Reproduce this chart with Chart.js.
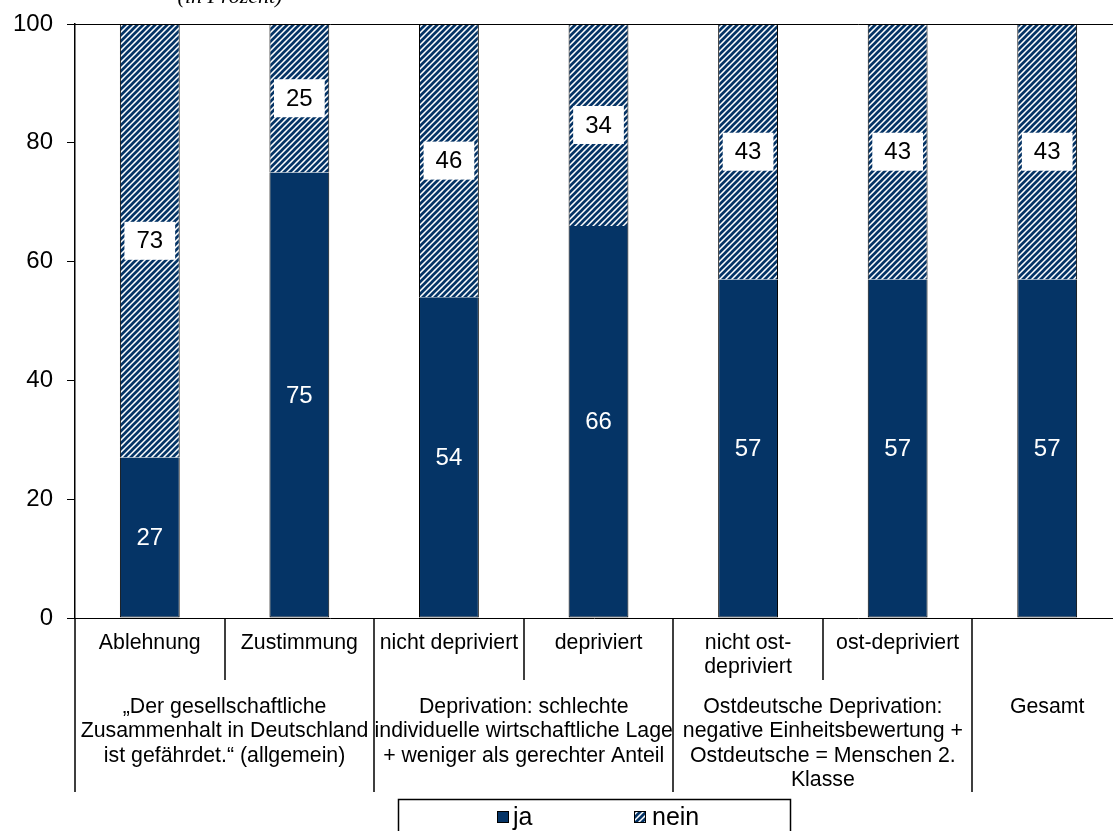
<!DOCTYPE html>
<html>
<head>
<meta charset="utf-8">
<script src="https://cdn.jsdelivr.net/npm/chart.js@4.4.0/dist/chart.umd.min.js"></script>
<style>
  html, body { margin: 0; padding: 0; background: #fff; overflow: hidden; }
  #wrap { width: 1125px; height: 831px; }
</style>
</head>
<body>
<div id="wrap"><canvas id="chart" width="1125" height="831"></canvas></div>
<script>
// category labels (first row), group labels (second row)
const categories = ['Ablehnung', 'Zustimmung', 'nicht depriviert', 'depriviert', 'nicht ost-\ndepriviert', 'ost-depriviert', ''];
const groupLabels = [
    '„Der gesellschaftliche\nZusammenhalt in Deutschland\nist gefährdet.“ (allgemein)',
    'Deprivation: schlechte\nindividuelle wirtschaftliche Lage\n+ weniger als gerechter Anteil',
    'Ostdeutsche Deprivation:\nnegative Einheitsbewertung +\nOstdeutsche = Menschen 2.\nKlasse',
    'Gesamt'
];
const groupSpans = [2, 2, 2, 1];
const jaValues = [27, 75, 54, 66, 57, 57, 57];
const neinValues = [73, 25, 46, 34, 43, 43, 43];
const seriesNames = ['ja', 'nein'];

const NAVY = '#053466';
const FONT = '"Liberation Sans", Arial, sans-serif';

function makeHatch() {
    const c = document.createElement('canvas');
    c.width = 6; c.height = 6;
    const g = c.getContext('2d');
    g.fillStyle = '#fff';
    g.fillRect(0, 0, 6, 6);
    g.strokeStyle = NAVY;
    g.lineWidth = 2.7;
    g.beginPath();
    g.moveTo(-1, 7); g.lineTo(7, -1);
    g.moveTo(-4, 4); g.lineTo(4, -4);
    g.moveTo(2, 10); g.lineTo(10, 2);
    g.stroke();
    return document.getElementById('chart').getContext('2d').createPattern(c, 'repeat');
}
const hatch = makeHatch();

const extras = {
    id: 'extras',
    afterDatasetsDraw(chart) {
        const ctx = chart.ctx;
        const area = chart.chartArea;
        ctx.save();

        // value labels
        ctx.font = '24px ' + FONT;
        ctx.textAlign = 'center';
        ctx.textBaseline = 'middle';
        chart.data.datasets.forEach((ds, di) => {
            chart.getDatasetMeta(di).data.forEach((bar, i) => {
                const cy = (bar.y + bar.base) / 2;
                const txt = String(ds.data[i]);
                if (di === 0) {
                    ctx.fillStyle = '#fff';
                    ctx.fillText(txt, bar.x, cy + 1);
                } else {
                    const w = ctx.measureText(txt).width + 24;
                    ctx.fillStyle = '#fff';
                    ctx.fillRect(bar.x - w / 2, cy - 19, w, 38);
                    ctx.fillStyle = '#000';
                    ctx.fillText(txt, bar.x, cy + 1);
                }
            });
        });

        // frame lines
        ctx.strokeStyle = '#000';
        ctx.lineWidth = 1;
        ctx.beginPath();
        ctx.moveTo(area.left - 8, Math.round(area.top) + 0.5);
        ctx.lineTo(area.right, Math.round(area.top) + 0.5);
        ctx.moveTo(area.left - 8, Math.round(area.bottom) + 0.5);
        ctx.lineTo(area.right, Math.round(area.bottom) + 0.5);
        ctx.stroke();

        // category label rows
        const step = (area.right - area.left) / categories.length;
        ctx.lineWidth = 1.5;
        ctx.beginPath();
        let idx = 0;
        const bounds = [0];
        groupSpans.forEach(n => { idx += n; bounds.push(idx); });
        for (let k = 0; k <= categories.length; k++) {
            const px = Math.round(area.left + k * step);
            const isGroup = bounds.includes(k);
            ctx.moveTo(px, area.bottom);
            ctx.lineTo(px, isGroup ? 792 : 680);
        }
        ctx.stroke();

        ctx.fillStyle = '#000';
        ctx.font = '21.3px ' + FONT;
        categories.forEach((c, i) => {
            const cx = area.left + (i + 0.5) * step;
            c.split('\n').forEach((line, j) => ctx.fillText(line, cx, 643 + j * 24));
        });
        groupLabels.forEach((g, gi) => {
            const cx = area.left + ((bounds[gi] + bounds[gi + 1]) / 2) * step;
            g.split('\n').forEach((line, j) => ctx.fillText(line, cx, 707 + j * 24.5));
        });

        // legend box
        ctx.lineWidth = 1.5;
        ctx.strokeRect(398.5, 799.5, 392, 60);
        ctx.fillStyle = NAVY;
        ctx.fillRect(497, 811, 12, 12);
        ctx.strokeStyle = '#000';
        ctx.lineWidth = 1;
        ctx.strokeRect(497.5, 811.5, 11, 11);
        ctx.fillStyle = hatch;
        ctx.fillRect(634, 811, 12, 12);
        ctx.strokeRect(634.5, 811.5, 11, 11);
        ctx.fillStyle = '#000';
        ctx.font = '25px ' + FONT;
        ctx.textAlign = 'left';
        ctx.fillText(seriesNames[0], 513, 818);
        ctx.fillText(seriesNames[1], 652, 818);

        // cut-off subtitle
        ctx.font = 'italic 22px "Liberation Serif", "Times New Roman", serif';
        ctx.textAlign = 'center';
        ctx.textBaseline = 'alphabetic';
        ctx.fillText('(in Prozent)', 230, 3);
        ctx.restore();
    }
};

new Chart(document.getElementById('chart'), {
    type: 'bar',
    data: {
        labels: categories,
        datasets: [
            {
                label: seriesNames[0],
                data: jaValues,
                backgroundColor: NAVY,
                borderColor: '#000',
                borderWidth: 1,
                borderSkipped: 'top'
            },
            {
                label: seriesNames[1],
                data: neinValues,
                backgroundColor: hatch,
                borderColor: '#000',
                borderWidth: 1,
                borderSkipped: 'bottom'
            }
        ]
    },
    options: {
        responsive: false,
        animation: false,
        devicePixelRatio: 1,
        layout: { padding: { top: 24, bottom: 213, right: 3, left: 0 } },
        datasets: { bar: { categoryPercentage: 0.4, barPercentage: 1 } },
        plugins: {
            legend: { display: false },
            tooltip: { enabled: false }
        },
        scales: {
            x: {
                stacked: true,
                display: false
            },
            y: {
                stacked: true,
                min: 0,
                max: 100,
                afterFit: s => { s.width = 75; s.paddingTop = 0; s.paddingBottom = 0; },
                ticks: {
                    stepSize: 20,
                    padding: 14,
                    color: '#000',
                    font: { size: 24, family: FONT }
                },
                grid: {
                    drawOnChartArea: false,
                    tickLength: 8,
                    color: '#000'
                },
                border: { color: '#000', width: 1.5 }
            }
        }
    },
    plugins: [extras]
});
</script>
</body>
</html>
